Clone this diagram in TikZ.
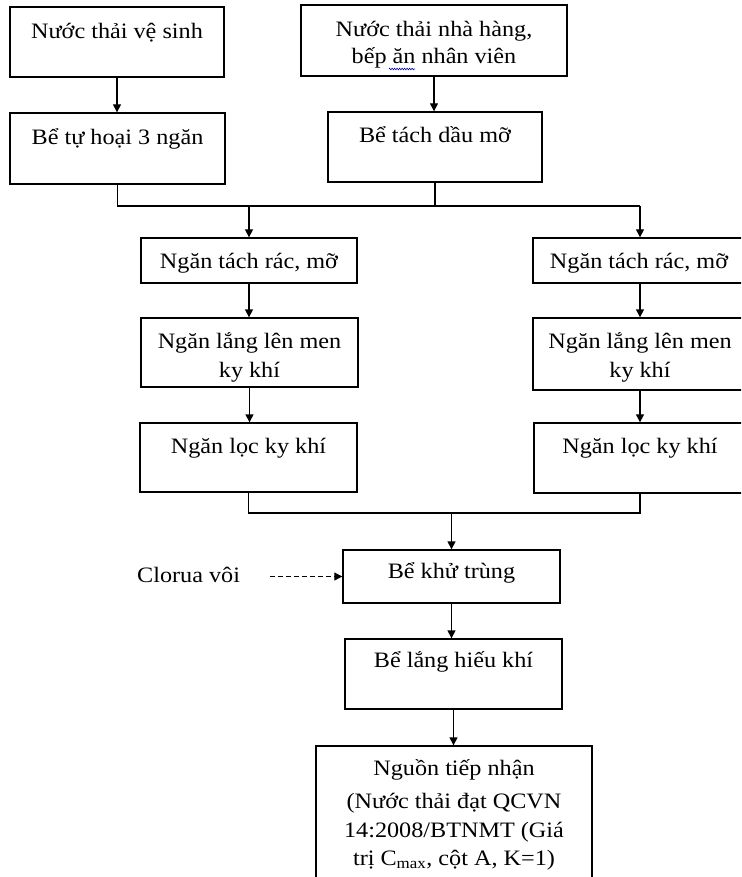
\documentclass[tikz,border=0pt]{standalone}
\usepackage{fontspec}
\setmainfont{Liberation Serif}[FakeStretch=1.1]
\usetikzlibrary{arrows.meta,decorations.pathmorphing}
\tikzset{
  box/.style={draw=black, line width=1.4pt, rectangle, inner sep=0pt},
  txt/.style={anchor=base, inner sep=0pt, font=\fontsize{22}{29}\selectfont},
  arr/.style={draw=black, line width=1.4pt, -{Triangle[length=8pt,width=8pt]}},
  ln/.style={draw=black, line width=1.4pt},
  squiggle/.style={draw=blue!70!black, line width=0.6pt, decorate, decoration={zigzag, amplitude=0.8pt, segment length=2.5pt}},
}
\newcommand\bx[5]{\node[box, minimum width=#4pt, minimum height=#5pt] (#1) at (#2,#3) {};}
\begin{document}
\begin{tikzpicture}[x=1pt,y=-1pt]
\clip (0,0) rectangle (741,877);
\fill[white] (0,0) rectangle (741,877);
% boxes
\bx{b1}{117}{42}{214}{70}
\bx{b2}{434}{40.5}{266}{71}
\bx{b3}{117.5}{148.5}{215}{71}
\bx{b4}{435}{147}{214}{70}
\bx{L1}{249}{260.5}{216}{45}
\bx{R1}{640}{260.5}{214}{45}
\bx{L2}{249.5}{352.5}{217}{69}
\bx{R2}{640}{354}{214}{72}
\bx{L3}{248.5}{457.5}{217}{69}
\bx{R3}{640}{458}{212}{70}
\bx{K}{451.5}{576.5}{217}{53}
\bx{H}{453.5}{674}{217}{70}
\bx{N}{454}{814}{276}{136}
% texts
\node[txt] (t1) at (117,39) {Nước thải vệ sinh};
\node[txt] (t2a) at (434,37) {Nước thải nhà hàng,};
\node[txt] (t2b) at (434,64) {bếp ăn nhân viên};
\draw[squiggle] (389,69) -- (415,69);
\node[txt] (t3) at (117.5,145) {Bể tự hoại 3 ngăn};
\node[txt] (t4) at (435,143) {Bể tách dầu mỡ};
\node[txt] (tL1) at (249,268) {Ngăn tách rác, mỡ};
\node[txt] (tR1) at (639,268) {Ngăn tách rác, mỡ};
\node[txt] (tL2a) at (249.5,348) {Ngăn lắng lên men};
\node[txt] (tL2b) at (249.5,377) {ky khí};
\node[txt] (tR2a) at (640,348) {Ngăn lắng lên men};
\node[txt] (tR2b) at (640,377) {ky khí};
\node[txt] (tL3) at (248.5,453) {Ngăn lọc ky khí};
\node[txt] (tR3) at (640,453) {Ngăn lọc ky khí};
\node[txt, anchor=base west] (clo) at (137,582) {Clorua vôi};
\node[txt] (tK) at (451.5,578) {Bể khử trùng};
\node[txt] (tH) at (453.5,667) {Bể lắng hiếu khí};
\node[txt] (tN1) at (454,775) {Nguồn tiếp nhận};
\node[txt] (tN2) at (454,808) {(Nước thải đạt QCVN};
\node[txt] (tN3) at (454,837) {14:2008/BTNMT (Giá};
\node[txt] (tN4) at (454,865) {trị C\textsubscript{max}, cột A, K=1)};
% connectors
\draw[arr] (b1.south) -- (b1.south |- b3.north);
\draw[arr] (b2.south) -- (b2.south |- b4.north);
\coordinate (jtop) at (0,206);
\draw[ln] (b3.south) -- (b3.south |- jtop) -- (R1.north |- jtop);
\draw[ln] (b4.south) -- (b4.south |- jtop);
\draw[arr] (L1.north |- jtop) -- (L1.north);
\draw[arr] (R1.north |- jtop) -- (R1.north);
\draw[arr] (L1.south) -- (L1.south |- L2.north);
\draw[arr] (L2.south) -- (L2.south |- L3.north);
\draw[arr] (R1.south) -- (R1.south |- R2.north);
\draw[arr] (R2.south) -- (R2.south |- R3.north);
\coordinate (jbot) at (0,513);
\draw[ln] (L3.south) -- (L3.south |- jbot) -- (R3.south |- jbot) -- (R3.south);
\draw[arr] (K.north |- jbot) -- (K.north);
\coordinate (cs) at (270,0);
\draw[arr, line width=1pt, dash pattern=on 5pt off 3pt] (cs |- K.west) -- (K.west);
\draw[arr] (K.south) -- (K.south |- H.north);
\draw[arr] (H.south) -- (H.south |- N.north);
\end{tikzpicture}
\end{document}
